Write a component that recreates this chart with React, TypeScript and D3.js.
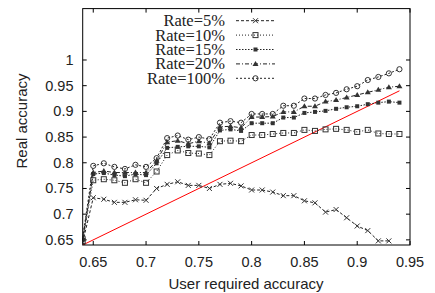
import * as d3 from "d3";

const xValues = [0.64, 0.65, 0.66, 0.67, 0.68, 0.69, 0.7, 0.71, 0.72, 0.73, 0.74, 0.75, 0.76, 0.77, 0.78, 0.79, 0.8, 0.81, 0.82, 0.83, 0.84, 0.85, 0.86, 0.87, 0.88, 0.89, 0.9, 0.91, 0.92, 0.93, 0.94];

const rate5 = [0.645, 0.732, 0.729, 0.723, 0.723, 0.728, 0.727, 0.75, 0.758, 0.763, 0.756, 0.756, 0.75, 0.758, 0.76, 0.755, 0.747, 0.747, 0.743, 0.736, 0.736, 0.726, 0.722, 0.704, 0.709, 0.693, 0.677, 0.668, 0.648, 0.648];
const rate10 = [0.648, 0.766, 0.768, 0.766, 0.761, 0.768, 0.761, 0.783, 0.815, 0.824, 0.819, 0.818, 0.815, 0.842, 0.843, 0.842, 0.854, 0.854, 0.856, 0.858, 0.858, 0.864, 0.862, 0.865, 0.866, 0.864, 0.86, 0.864, 0.857, 0.856, 0.856];
const rate15 = [0.65, 0.778, 0.78, 0.776, 0.774, 0.778, 0.776, 0.799, 0.829, 0.831, 0.832, 0.832, 0.83, 0.863, 0.865, 0.862, 0.877, 0.877, 0.877, 0.888, 0.888, 0.897, 0.899, 0.901, 0.905, 0.908, 0.91, 0.914, 0.917, 0.919, 0.917];
const rate20 = [0.652, 0.781, 0.784, 0.781, 0.781, 0.781, 0.781, 0.804, 0.84, 0.843, 0.837, 0.842, 0.838, 0.87, 0.871, 0.868, 0.889, 0.889, 0.89, 0.899, 0.899, 0.91, 0.91, 0.919, 0.922, 0.927, 0.932, 0.937, 0.942, 0.947, 0.949];
const rate100 = [0.655, 0.794, 0.799, 0.792, 0.788, 0.796, 0.792, 0.809, 0.848, 0.853, 0.845, 0.85, 0.846, 0.878, 0.881, 0.878, 0.895, 0.895, 0.895, 0.911, 0.911, 0.925, 0.925, 0.932, 0.936, 0.943, 0.949, 0.961, 0.967, 0.974, 0.982];

const xTicks = [0.65, 0.7, 0.75, 0.8, 0.85, 0.9, 0.95];
const yTicks = [0.65, 0.7, 0.75, 0.8, 0.85, 0.9, 0.95, 1];
const diagonal = [0.64, 0.94];

const series = [
  { label: "Rate=5%", values: rate5, dash: "3,2", marker: "cross" },
  { label: "Rate=10%", values: rate10, dash: "1,2", marker: "square" },
  { label: "Rate=15%", values: rate15, dash: "1.5,1.5", marker: "filled" },
  { label: "Rate=20%", values: rate20, dash: "4,2,1,2", marker: "triangle" },
  { label: "Rate=100%", values: rate100, dash: "2,2", marker: "circle" },
];

const W = 435;
const H = 293;
const m = { left: 82.7, right: 410, top: 8.6, bottom: 245 };

function Marker({ type, x, y }: { type: string; x: number; y: number }) {
  const c = "#333";
  if (type === "cross")
    return (
      <path d={`M${x - 2.5},${y - 2.5}L${x + 2.5},${y + 2.5}M${x - 2.5},${y + 2.5}L${x + 2.5},${y - 2.5}`} stroke={c} strokeWidth={1} />
    );
  if (type === "square")
    return <rect x={x - 2.5} y={y - 2.5} width={5} height={5} fill="none" stroke={c} strokeWidth={1} />;
  if (type === "filled") return <rect x={x - 2} y={y - 2} width={4} height={4} fill={c} />;
  if (type === "triangle")
    return <path d={`M${x},${y - 3}L${x + 3},${y + 2}L${x - 3},${y + 2}Z`} fill={c} />;
  return <circle cx={x} cy={y} r={2.6} fill="none" stroke={c} strokeWidth={1} />;
}

export default function App() {
  const x = d3.scaleLinear().domain([0.64, 0.95]).range([m.left, m.right]);
  const y = d3.scaleLinear().domain([0.64, 1.1]).range([m.bottom, m.top]);
  const line = d3
    .line<number>()
    .x((_, i) => x(xValues[i]))
    .y((d) => y(d));

  const sans = "'Liberation Sans', Arial, sans-serif";
  const serif = "'Liberation Serif', 'Times New Roman', serif";

  return (
    <svg width={W} height={H} style={{ position: "absolute", left: 0, top: 0, background: "#fff" }}>
      <defs>
        <clipPath id="plot">
          <rect x={m.left} y={m.top} width={m.right - m.left} height={m.bottom - m.top} />
        </clipPath>
      </defs>

      {/* ticks, mirrored on all sides and pointing inward */}
      {xTicks.map((t) => (
        <g key={"x" + t}>
          <line x1={x(t)} x2={x(t)} y1={m.bottom} y2={m.bottom - 4} stroke="#000" />
          <line x1={x(t)} x2={x(t)} y1={m.top} y2={m.top + 4} stroke="#000" />
          <text x={x(t)} y={267} textAnchor="middle" fontFamily={sans} fontSize={14.5} fill="#222">
            {t}
          </text>
        </g>
      ))}
      {yTicks.map((t) => (
        <g key={"y" + t}>
          <line x1={m.left} x2={m.left + 4} y1={y(t)} y2={y(t)} stroke="#000" />
          <line x1={m.right} x2={m.right - 4} y1={y(t)} y2={y(t)} stroke="#000" />
          <text x={73.5} y={y(t) + 5} textAnchor="end" fontFamily={sans} fontSize={14.5} fill="#222">
            {t}
          </text>
        </g>
      ))}

      <text x={246} y={289} textAnchor="middle" fontFamily={sans} fontSize={15} fill="#222">
        User required accuracy
      </text>
      <text transform="translate(27,121) rotate(-90)" textAnchor="middle" fontFamily={sans} fontSize={15} fill="#222">
        Real accuracy
      </text>

      <g clipPath="url(#plot)">
        <line
          x1={x(diagonal[0])}
          y1={y(diagonal[0])}
          x2={x(diagonal[1])}
          y2={y(diagonal[1])}
          stroke="#f00"
          strokeWidth={1}
        />
        {series.map((s) => (
          <g key={s.label}>
            <path d={line(s.values) ?? ""} fill="none" stroke="#222" strokeWidth={1} strokeDasharray={s.dash} />
            {s.values.map((v, i) => (
              <Marker key={i} type={s.marker} x={x(xValues[i])} y={y(v)} />
            ))}
          </g>
        ))}
      </g>

      {/* legend */}
      {series.map((s, i) => {
        const ly = 20.7 + i * 14.4;
        return (
          <g key={"leg" + s.label}>
            <text x={225} y={ly + 5.5} textAnchor="end" fontFamily={serif} fontSize={16.5} fill="#222">
              {s.label}
            </text>
            <line x1={236} x2={275} y1={ly} y2={ly} stroke="#222" strokeDasharray={s.dash} />
            <Marker type={s.marker} x={255.5} y={ly} />
          </g>
        );
      })}

      <rect x={m.left} y={m.top} width={m.right - m.left} height={m.bottom - m.top} fill="none" stroke="#000" strokeWidth={1} />
    </svg>
  );
}
